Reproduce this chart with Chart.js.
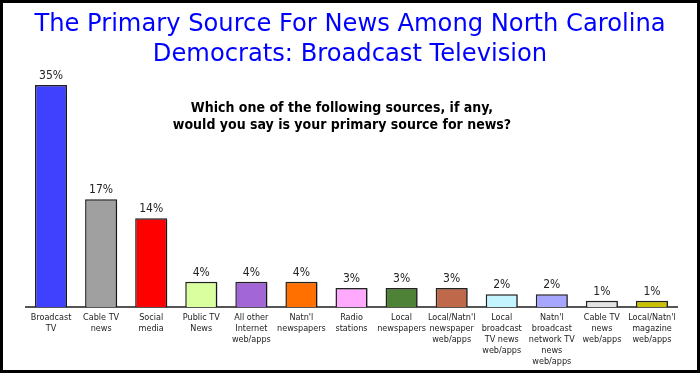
<!DOCTYPE html>
<html>
<head>
<meta charset="utf-8">
<script src="https://cdn.jsdelivr.net/npm/chart.js@4"></script>
<style>
  html, body { margin: 0; padding: 0; background: #fff; }
  #wrap { width: 700px; height: 373px; box-sizing: border-box; border: 3px solid #000; background: #fff; }
  #chart { display: block; }
</style>
</head>
<body>
<div id="wrap"><canvas id="chart" width="694" height="367"></canvas></div>
<script>
// data
const categories = [
    ['Broadcast', 'TV'],
    ['Cable TV', 'news'],
    ['Social', 'media'],
    ['Public TV', 'News'],
    ['All other', 'Internet', 'web/apps'],
    ['Natn\'l', 'newspapers'],
    ['Radio', 'stations'],
    ['Local', 'newspapers'],
    ['Local/Natn\'l', 'newspaper', 'web/apps'],
    ['Local', 'broadcast', 'TV news', 'web/apps'],
    ['Natn\'l', 'broadcast', 'network TV', 'news', 'web/apps'],
    ['Cable TV', 'news', 'web/apps'],
    ['Local/Natn\'l', 'magazine', 'web/apps']
];
const shares = [35, 17, 14, 4, 4, 4, 3, 3, 3, 2, 2, 1, 1];
const barColors = [
    '#4040FF', '#A0A0A0', '#FF0000', '#DAFF9E', '#A366D6', '#FF7000', '#FFAAFF',
    '#4E8236', '#C0694A', '#C4F4FF', '#A6A6FF', '#E4E4E4', '#C8C000'
];
const titleLines = ['The Primary Source For News Among North Carolina', 'Democrats: Broadcast Television'];
const questionLines = ['Which one of the following sources, if any,', 'would you say is your primary source for news?'];

const fontFamily = '"DejaVu Sans", Verdana, sans-serif';
const narrowFamily = '"DejaVu Sans Condensed", "DejaVu Sans", Tahoma, sans-serif';

// titles and the question text
const textPlugin = {
    id: 'texts',
    afterDraw(chart) {
        const ctx = chart.ctx;
        ctx.save();
        ctx.textAlign = 'center';
        ctx.textBaseline = 'middle';
        ctx.fillStyle = '#0000FF';
        ctx.font = '24.2px ' + fontFamily;
        ctx.fillText(titleLines[0], 347, 22);
        ctx.fillText(titleLines[1], 347, 52);
        ctx.fillStyle = '#000';
        ctx.font = 'bold 14px ' + narrowFamily;
        ctx.fillText(questionLines[0], 339, 105);
        ctx.fillText(questionLines[1], 339, 122);
        ctx.restore();
    }
};

// value labels above each bar + soft shadow on bars
const barExtras = {
    id: 'barExtras',
    beforeDatasetsDraw(chart) {
        const ctx = chart.ctx;
        ctx.save();
        ctx.shadowColor = 'rgba(0,0,0,0.35)';
        ctx.shadowOffsetX = 2;
        ctx.shadowOffsetY = 1;
        ctx.shadowBlur = 2;
    },
    afterDatasetsDraw(chart) {
        const ctx = chart.ctx;
        ctx.restore();
        ctx.save();
        ctx.font = '12px ' + narrowFamily;
        ctx.fillStyle = '#222';
        ctx.textAlign = 'center';
        ctx.textBaseline = 'middle';
        chart.getDatasetMeta(0).data.forEach((bar, i) => {
            ctx.fillText(shares[i] + '%', bar.x, bar.y - 9);
        });
        ctx.restore();
    }
};

new Chart(document.getElementById('chart'), {
    type: 'bar',
    data: {
        labels: categories,
        datasets: [{
            data: shares,
            backgroundColor: barColors,
            borderColor: '#222',
            borderWidth: 1.5,
            categoryPercentage: 1,
            barPercentage: 0.64
        }]
    },
    options: {
        responsive: false,
        animation: false,
        layout: { padding: { top: 82, left: 23, right: 20, bottom: 0 } },
        plugins: {
            legend: { display: false },
            tooltip: { enabled: false }
        },
        scales: {
            y: {
                display: false,
                min: 0,
                max: 35
            },
            x: {
                grid: { display: false },
                border: { display: true, color: '#555', width: 2 },
                ticks: {
                    color: '#222',
                    font: { family: narrowFamily, size: 9, lineHeight: 1.22 },
                    padding: -3,
                    maxRotation: 0,
                    minRotation: 0,
                    autoSkip: false
                },
                afterFit(scale) { scale.height = 63; }
            }
        }
    },
    plugins: [textPlugin, barExtras]
});
</script>
</body>
</html>
